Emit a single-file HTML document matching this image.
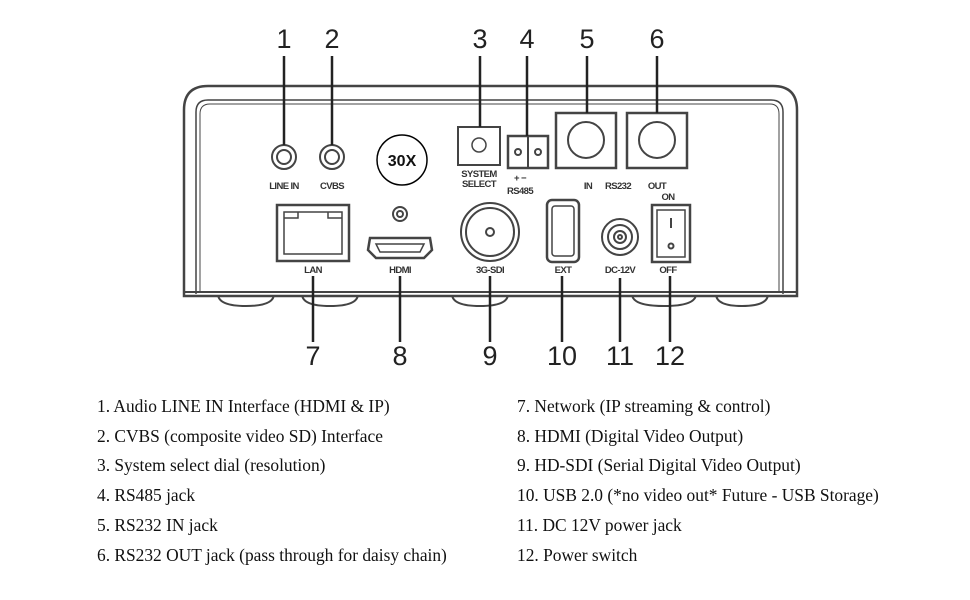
<!DOCTYPE html>
<html><head><meta charset="utf-8"><style>
html,body{margin:0;padding:0;background:#fff;}
svg{display:block;}
.n{font-family:"Liberation Sans",Arial,sans-serif;font-size:27px;fill:#222;text-anchor:middle;}
.l{font-family:"Liberation Sans",Arial,sans-serif;font-size:9.5px;font-weight:bold;fill:#333;text-anchor:middle;letter-spacing:-0.6px;}
.t{font-family:"Liberation Serif","Times New Roman",serif;font-size:17.4px;fill:#111;}
</style></head><body>
<svg width="970" height="600" viewBox="0 0 970 600" xmlns="http://www.w3.org/2000/svg">
<g fill="none" stroke="#444" stroke-width="2">
<path d="M218 294 q0 12 28 12 q28 0 28 -12"/>
<path d="M302 294 q0 12 28 12 q28 0 28 -12"/>
<path d="M452 294 q0 12 28 12 q28 0 28 -12"/>
<path d="M632 294 q0 12 32 12 q32 0 32 -12"/>
<path d="M716 294 q0 12 26 12 q26 0 26 -12"/>
<path d="M184 296 L184 110 Q184 86 208 86 L773 86 Q797 86 797 110 L797 296 Z" fill="#fff" stroke-width="2.5"/>
<path d="M196 294 L196 112 Q196 100 208 100 L771 100 Q783 100 783 112 L783 294" stroke-width="1.5"/>
<path d="M200 292 L200 114 Q200 104 210 104 L770 104 Q779 104 779 114 L779 292" stroke-width="1"/>
<line x1="184" y1="292" x2="797" y2="292"/>
<circle cx="284" cy="157" r="12"/><circle cx="284" cy="157" r="7"/>
<circle cx="332" cy="157" r="12"/><circle cx="332" cy="157" r="7"/>
<circle cx="402" cy="160" r="25" stroke="#000" stroke-width="1.5"/>
<rect x="458" y="127" width="42" height="38"/>
<circle cx="479" cy="145" r="7" stroke-width="1.5"/>
<rect x="508" y="136" width="40" height="32" stroke-width="2.5"/>
<line x1="528" y1="136" x2="528" y2="168"/>
<circle cx="518" cy="152" r="3"/><circle cx="538" cy="152" r="3"/>
<rect x="556" y="113" width="60" height="55" stroke-width="2.5"/>
<circle cx="586" cy="140" r="18" stroke-width="2"/>
<rect x="627" y="113" width="60" height="55" stroke-width="2.5"/>
<circle cx="657" cy="140" r="18" stroke-width="2"/>
<rect x="277" y="205" width="72" height="56" stroke-width="2.5"/>
<path d="M284 212 L342 212 L342 254 L284 254 Z M284 218 h14 v-6 M342 218 h-14 v-6" stroke-width="1.5"/>
<circle cx="400" cy="214" r="7"/><circle cx="400" cy="214" r="3"/>
<path d="M370 238 L430 238 L432 250 L424 258 L376 258 L368 250 Z" stroke-width="2.5"/>
<path d="M376 244 L424 244 L420 252 L380 252 Z" stroke-width="1.5"/>
<circle cx="490" cy="232" r="29"/><circle cx="490" cy="232" r="24"/><circle cx="490" cy="232" r="4"/>
<rect x="547" y="200" width="32" height="62" rx="5" stroke-width="2.5"/>
<rect x="552" y="206" width="22" height="50" rx="3" stroke-width="1.5"/>
<circle cx="620" cy="237" r="18"/><circle cx="620" cy="237" r="12"/><circle cx="620" cy="237" r="6"/><circle cx="620" cy="237" r="2"/>
<rect x="652" y="205" width="38" height="57" stroke-width="2.5"/>
<rect x="657" y="210" width="28" height="47" stroke-width="1.5"/>
<line x1="671" y1="218" x2="671" y2="228"/><circle cx="671" cy="246" r="2.5"/>
<g stroke="#222" stroke-width="2.5">
<line x1="284" y1="56" x2="284" y2="145"/>
<line x1="332" y1="56" x2="332" y2="145"/>
<line x1="480" y1="56" x2="480" y2="127"/>
<line x1="527" y1="56" x2="527" y2="136"/>
<line x1="587" y1="56" x2="587" y2="113"/>
<line x1="657" y1="56" x2="657" y2="113"/>
<line x1="313" y1="276" x2="313" y2="342"/>
<line x1="400" y1="276" x2="400" y2="342"/>
<line x1="490" y1="276" x2="490" y2="342"/>
<line x1="562" y1="276" x2="562" y2="342"/>
<line x1="620" y1="278" x2="620" y2="342"/>
<line x1="670" y1="276" x2="670" y2="342"/>
</g>
</g>
<text x="402" y="166" font-family="Liberation Sans,sans-serif" font-size="16" font-weight="bold" text-anchor="middle" fill="#111">30X</text>
<g class="n">
<text x="284" y="48">1</text><text x="332" y="48">2</text><text x="480" y="48">3</text>
<text x="527" y="48">4</text><text x="587" y="48">5</text><text x="657" y="48">6</text>
<text x="313" y="365">7</text><text x="400" y="365">8</text><text x="490" y="365">9</text>
<text x="562" y="365">10</text><text x="620" y="365">11</text><text x="670" y="365">12</text>
</g>
<g class="l">
<text x="284" y="189">LINE IN</text><text x="332" y="189">CVBS</text>
<text x="479" y="177">SYSTEM</text><text x="479" y="187">SELECT</text>
<text x="520" y="181">+  −</text><text x="520" y="194">RS485</text>
<text x="588" y="189">IN</text><text x="618" y="189">RS232</text><text x="657" y="189">OUT</text>
<text x="668" y="200">ON</text>
<text x="313" y="273">LAN</text><text x="400" y="273">HDMI</text><text x="490" y="273">3G-SDI</text>
<text x="563" y="273">EXT</text><text x="620" y="273">DC-12V</text><text x="668" y="273">OFF</text>
</g>
<g class="t">
<text x="97" y="412">1. Audio LINE IN Interface (HDMI &amp; IP)</text>
<text x="97" y="442">2. CVBS (composite video SD) Interface</text>
<text x="97" y="471">3. System select dial (resolution)</text>
<text x="97" y="501">4. RS485 jack</text>
<text x="97" y="531">5. RS232 IN jack</text>
<text x="97" y="561">6. RS232 OUT jack (pass through for daisy chain)</text>
<text x="517" y="412">7. Network (IP streaming &amp; control)</text>
<text x="517" y="442">8. HDMI (Digital Video Output)</text>
<text x="517" y="471">9. HD-SDI (Serial Digital Video Output)</text>
<text x="517" y="501">10. USB 2.0 (*no video out* Future - USB Storage)</text>
<text x="517" y="531">11. DC 12V power jack</text>
<text x="517" y="561">12. Power switch</text>
</g>
</svg>
</body></html>
